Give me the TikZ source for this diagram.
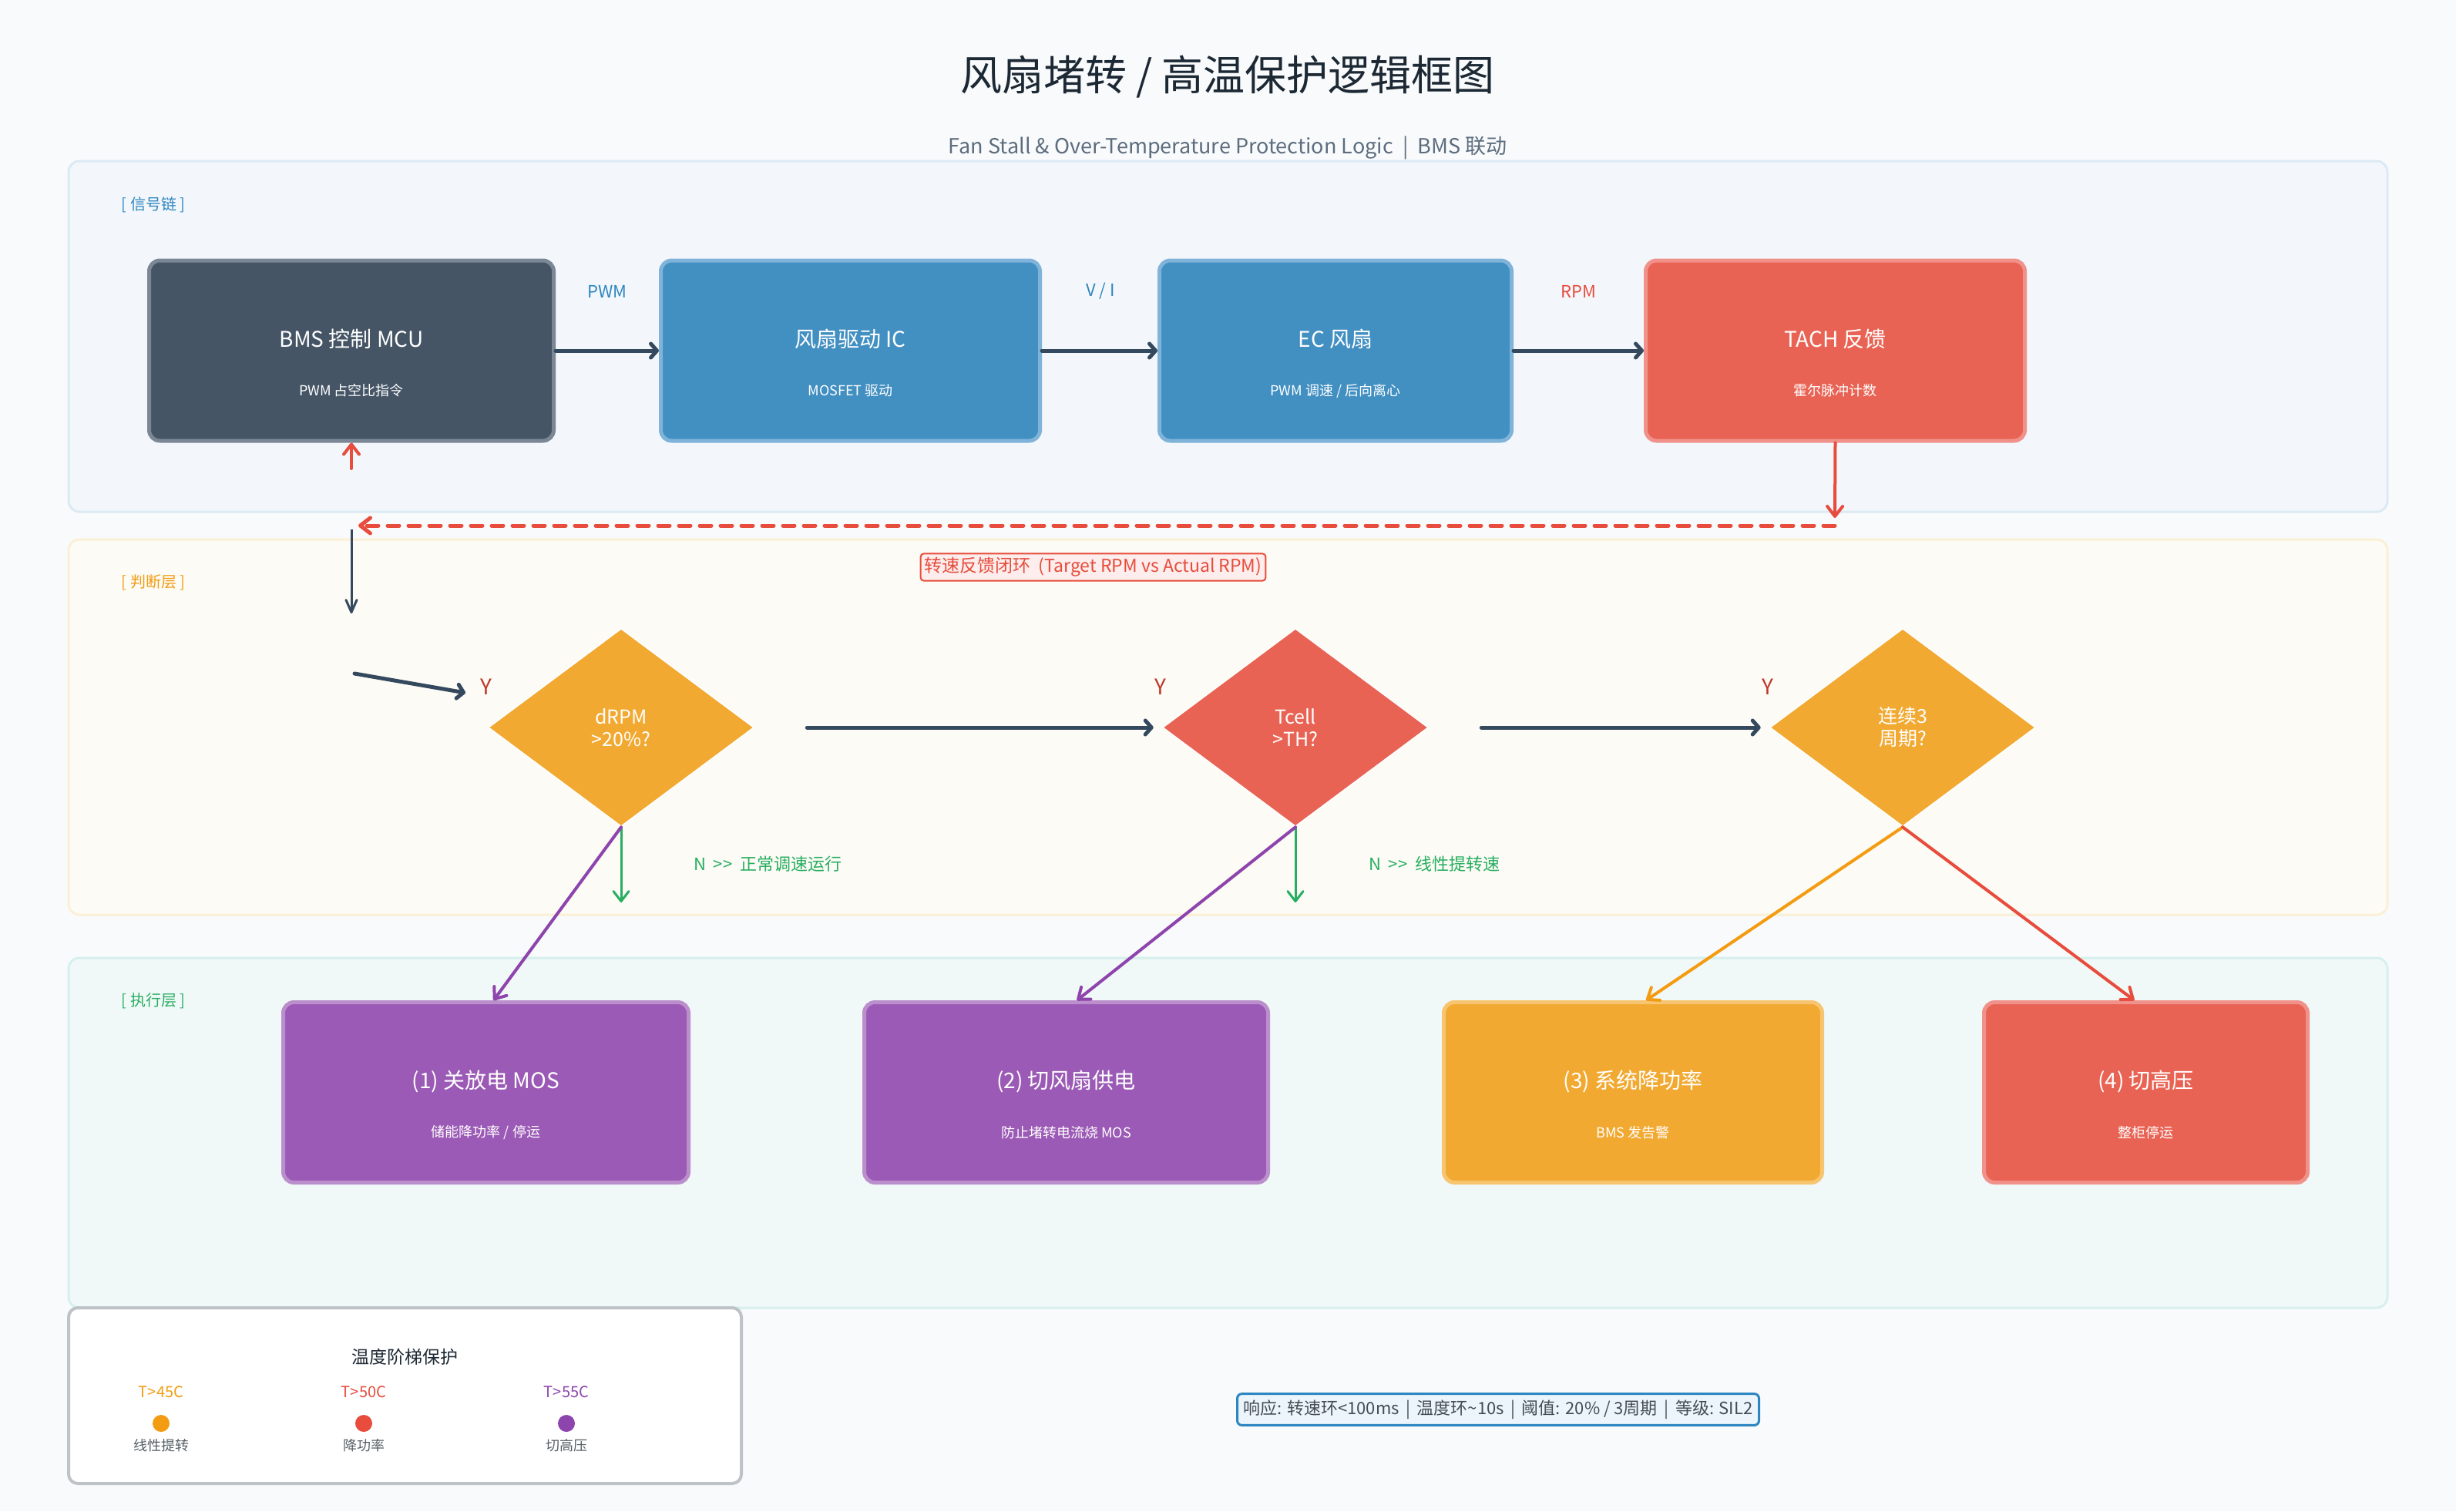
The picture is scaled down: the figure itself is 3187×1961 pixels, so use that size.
\documentclass[tikz,border=0pt]{standalone}
\usepackage{fontspec}
\setmainfont{Noto Sans CJK SC}
\usetikzlibrary{shapes.geometric,arrows.meta}
\definecolor{bgc}{HTML}{F8FAFC}
\definecolor{titlec}{HTML}{1C2833}
\definecolor{subc}{HTML}{5D6D7E}
\definecolor{panelA}{HTML}{F3F7FB}
\definecolor{panelAline}{HTML}{DCEAF4}
\definecolor{panelB}{HTML}{FCFBF5}
\definecolor{panelBline}{HTML}{FBF0D5}
\definecolor{panelC}{HTML}{F1F8F8}
\definecolor{panelCline}{HTML}{D6F0EC}
\definecolor{mcufill}{HTML}{455566}
\definecolor{mculine}{HTML}{7B8794}
\definecolor{bluefill}{HTML}{428FC2}
\definecolor{blueline}{HTML}{7FB3D9}
\definecolor{redfill}{HTML}{E96354}
\definecolor{redline}{HTML}{F0928A}
\definecolor{orangefill}{HTML}{F2A931}
\definecolor{orangeline}{HTML}{F7C470}
\definecolor{purplefill}{HTML}{9B5AB5}
\definecolor{purpleline}{HTML}{BA8FCC}
\definecolor{arrowdark}{HTML}{34495E}
\definecolor{okgreen}{HTML}{27AE60}
\definecolor{alarmred}{HTML}{E74C3C}
\definecolor{tagblue}{HTML}{2E86C1}
\definecolor{warnorange}{HTML}{F39C12}
\definecolor{cutpurple}{HTML}{8E44AD}
\definecolor{ymark}{HTML}{C0392B}
\definecolor{pinkbg}{HTML}{FDEDEC}
\definecolor{notebg}{HTML}{EBF5FB}
\definecolor{notedark}{HTML}{444B54}
\definecolor{notegrey}{HTML}{555F66}
\definecolor{legline}{HTML}{BDC3C7}
\begin{document}
\begin{tikzpicture}[x=0.5pt,y=-0.5pt,
        blockbox/.style={draw,rounded corners=7pt,line width=2.5pt,minimum height=117pt,inner sep=0pt},
        decide/.style={diamond,draw=white,line width=0.8pt,minimum width=172.5pt,minimum height=128.5pt,inner sep=0pt,align=center,text=white,font=\fontsize{12.5}{14.5}\selectfont},
        boxtitle/.style={text=white,font=\fontsize{14}{17}\selectfont},
        boxnote/.style={text=white,font=\fontsize{9}{11}\selectfont},
        layertag/.style={font=\fontsize{10}{12}\selectfont},
        wirelabel/.style={font=\fontsize{11}{13}\selectfont},
        ymarker/.style={text=ymark,font=\fontsize{14}{17}\selectfont},
        thickarrow/.style={color=arrowdark,line width=2.5pt,line cap=round,-{Straight Barb[length=4pt,width=9pt,round]}},
        thinarrow/.style={line width=2pt,line cap=round,-{Straight Barb[length=6.5pt,width=10pt,round]}},
        legdot/.style={circle,inner sep=0pt,minimum size=11pt},
        legtext/.style={font=\fontsize{10}{12}\selectfont},
        legnote/.style={text=notegrey,font=\fontsize{9}{11}\selectfont}]
                \fill[color=bgc] (0,0) rectangle (3187,1961);
                \useasboundingbox (0,0) rectangle (3187,1961);
                \node[text=titlec,font=\fontsize{27}{32}\selectfont] (title) at (1593,100) {风扇堵转 / 高温保护逻辑框图};
                \node[text=subc,font=\fontsize{13.5}{16}\selectfont] (subtitle) at (1593,192) {Fan Stall \& Over-Temperature Protection Logic\ \ |\ \ BMS 联动};
                \draw[fill=panelA,draw=panelAline,line width=1.5pt,rounded corners=7pt] (89,209) rectangle (3098,664);
                \draw[fill=panelB,draw=panelBline,line width=1.5pt,rounded corners=7pt] (89,700) rectangle (3098,1187);
                \draw[fill=panelC,draw=panelCline,line width=1.5pt,rounded corners=7pt] (89,1243) rectangle (3098,1697);
                \node[layertag,text=tagblue] (tagsig) at (199,266) {[ 信号链 ]};
                \node[layertag,text=warnorange] (tagjudge) at (199,756) {[ 判断层 ]};
                \node[layertag,text=okgreen] (tagexec) at (199,1299) {[ 执行层 ]};
                \node[blockbox,fill=mcufill,draw=mculine,minimum width=262.5pt] (mcu) at (456,455) {};
                \node[boxtitle] (mcut) at ([yshift=7.5pt]mcu.center) {BMS 控制 MCU};
                \node[boxnote] (mcun) at ([yshift=-26pt]mcu.center) {PWM 占空比指令};
                \node[blockbox,fill=bluefill,draw=blueline,minimum width=246pt] (drv) at (1103.5,455) {};
                \node[boxtitle] (drvt) at ([yshift=7.5pt]drv.center) {风扇驱动 IC};
                \node[boxnote] (drvn) at ([yshift=-26pt]drv.center) {MOSFET 驱动};
                \node[blockbox,fill=bluefill,draw=blueline,minimum width=228.5pt] (fan) at (1733,455) {};
                \node[boxtitle] (fant) at ([yshift=7.5pt]fan.center) {EC 风扇};
                \node[boxnote] (fann) at ([yshift=-26pt]fan.center) {PWM 调速 / 后向离心};
                \node[blockbox,fill=redfill,draw=redline,minimum width=246pt] (tach) at (2381.5,455) {};
                \node[boxtitle] (tacht) at ([yshift=7.5pt]tach.center) {TACH 反馈};
                \node[boxnote] (tachn) at ([yshift=-26pt]tach.center) {霍尔脉冲计数};
                \draw[thickarrow] (mcu.east) -- (drv.west);
                \draw[thickarrow] (drv.east) -- (fan.west);
                \draw[thickarrow] (fan.east) -- (tach.west);
                \node[wirelabel,text=tagblue] (lpwm) at (788,378) {PWM};
                \node[wirelabel,text=tagblue] (lvi) at (1428,378) {V / I};
                \node[wirelabel,text=alarmred] (lrpm) at (2048,378) {RPM};
                \coordinate (fbr) at (2381,682);
                \coordinate (fbl) at (465,682);
                \coordinate (mcuin) at (456,608);
                \coordinate (fbdown) at (456,687);
                \coordinate (judge) at (456,796);
                \coordinate (in1) at (460,874);
                \coordinate (in2) at (604,899);
                \draw[thinarrow,color=alarmred] (tach.south) -- ([yshift=5pt]fbr);
                \draw[thinarrow,color=alarmred,line width=2.5pt,dash pattern=on 7.5pt off 6pt] (fbr) -- (fbl);
                \draw[thinarrow,color=alarmred] (mcuin) -- (mcu.south);
                \draw[color=arrowdark,line width=1.5pt,-{Straight Barb[length=8pt,width=7pt,round]}] (fbdown) -- (judge);
                \node[draw=alarmred,fill=pinkbg,line width=1pt,rounded corners=2pt,inner sep=2.5pt,text=alarmred,font=\fontsize{11.5}{14}\selectfont] (loop) at (1418.5,736) {转速反馈闭环\ \ (Target RPM vs Actual RPM)};
                \node[decide,fill=orangefill] (d1) at (806,944) {dRPM\\>20\%?};
                \node[decide,fill=redfill] (d2) at (1681,944) {Tcell\\>TH?};
                \node[decide,fill=orangefill] (d3) at (2469,944) {连续3\\周期?};
                \draw[thickarrow] (in1) -- (in2);
                \draw[thickarrow,shorten <=34pt,shorten >=5.5pt] (d1.east) -- (d2.west);
                \draw[thickarrow,shorten <=34pt,shorten >=5.5pt] (d2.east) -- (d3.west);
                \node[ymarker] (y1) at (631,891) {Y};
                \node[ymarker] (y2) at (1506,891) {Y};
                \node[ymarker] (y3) at (2294,891) {Y};
                \coordinate (n1) at (806,1171);
                \coordinate (n2) at (1681,1171);
                \draw[thinarrow,color=okgreen,line width=1.5pt] (d1.south) -- (n1);
                \draw[thinarrow,color=okgreen,line width=1.5pt] (d2.south) -- (n2);
                \node[wirelabel,text=okgreen,anchor=west] (n1t) at (893,1121) {N\ \ >{}>\ \ 正常调速运行};
                \node[wirelabel,text=okgreen,anchor=west] (n2t) at (1769,1121) {N\ \ >{}>\ \ 线性提转速};
                \node[blockbox,fill=purplefill,draw=purpleline,minimum width=263pt] (b1) at (630.5,1417.5) {};
                \node[boxtitle] (b1t) at ([yshift=7pt]b1.center) {(1) 关放电 MOS};
                \node[boxnote] (b1n) at ([yshift=-26pt]b1.center) {储能降功率 / 停运};
                \node[blockbox,fill=purplefill,draw=purpleline,minimum width=262pt] (b2) at (1383.5,1417.5) {};
                \node[boxtitle] (b2t) at ([yshift=7pt]b2.center) {(2) 切风扇供电};
                \node[boxnote] (b2n) at ([yshift=-26pt]b2.center) {防止堵转电流烧 MOS};
                \node[blockbox,fill=orangefill,draw=orangeline,minimum width=245.5pt] (b3) at (2119,1417.5) {};
                \node[boxtitle] (b3t) at ([yshift=7pt]b3.center) {(3) 系统降功率};
                \node[boxnote] (b3n) at ([yshift=-26pt]b3.center) {BMS 发告警};
                \node[blockbox,fill=redfill,draw=redline,minimum width=210pt] (b4) at (2784.5,1417.5) {};
                \node[boxtitle] (b4t) at ([yshift=7pt]b4.center) {(4) 切高压};
                \node[boxnote] (b4n) at ([yshift=-26pt]b4.center) {整柜停运};
                \draw[thinarrow,color=cutpurple] (d1.south) -- ([xshift=5pt]b1.north);
                \draw[thinarrow,color=cutpurple] (d2.south) -- ([xshift=7pt]b2.north);
                \draw[thinarrow,color=warnorange] (d3.south) -- ([xshift=8.5pt]b3.north);
                \draw[thinarrow,color=alarmred] (d3.south) -- ([xshift=-7.5pt]b4.north);
                \draw[fill=white,draw=legline,line width=2pt,rounded corners=6pt] (89,1697) rectangle (962,1925);
                \node[text=titlec,font=\fontsize{11.5}{14}\selectfont] (legtitle) at (525,1761) {温度阶梯保护};
                \node[legtext,text=warnorange] (t45) at (209,1806) {T>45C};
                \node[legtext,text=alarmred] (t50) at (472,1806) {T>50C};
                \node[legtext,text=cutpurple] (t55) at (735,1806) {T>55C};
                \node[legdot,fill=warnorange] (c45) at (209,1847) {};
                \node[legdot,fill=alarmred] (c50) at (472,1847) {};
                \node[legdot,fill=cutpurple] (c55) at (735,1847) {};
                \node[legnote] (n45) at (209,1876) {线性提转};
                \node[legnote] (n50) at (472,1876) {降功率};
                \node[legnote] (n55) at (735,1876) {切高压};
                \node[draw=tagblue,fill=notebg,line width=1.5pt,rounded corners=3pt,inner sep=4pt,text=notedark,font=\fontsize{11}{13}\selectfont] (foot) at (1944,1829) {响应: 转速环<100ms\ \,|\ \,温度环\textasciitilde10s\ \,|\ \,阈值: 20\% / 3周期\ \,|\ \,等级: SIL2};
            \end{tikzpicture}
\end{document}
